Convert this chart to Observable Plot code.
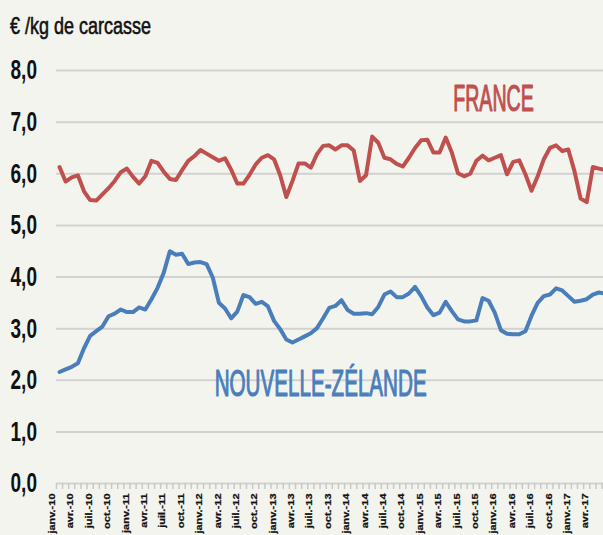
<!DOCTYPE html>
<html><head><meta charset="utf-8">
<script src="https://cdn.jsdelivr.net/npm/d3@7"></script>
<script src="https://cdn.jsdelivr.net/npm/@observablehq/plot@0.6"></script>
<style>
html,body{margin:0;padding:0;background:#f4f4ef;overflow:hidden;width:603px;height:535px}
#title{height:40px;box-sizing:border-box;padding-top:14px;padding-left:10px;font:24px/24px "Liberation Sans",Arial,sans-serif;color:#111;white-space:nowrap}
#title span{display:inline-block;transform:scaleX(0.75);transform-origin:0 0;-webkit-text-stroke:0.6px #111}
</style></head><body>
<div id="title"><span>€ /kg de carcasse</span></div>
<div id="chart"></div>
<script>
const france = [6.13,5.85,5.93,5.97,5.66,5.49,5.48,5.60,5.72,5.86,
  6.03,6.10,5.94,5.81,5.95,6.25,6.21,6.04,5.90,5.88,
  6.07,6.25,6.34,6.46,6.39,6.32,6.25,6.30,6.08,5.81,
  5.81,5.98,6.18,6.31,6.36,6.28,5.97,5.55,5.86,6.20,
  6.20,6.12,6.38,6.54,6.55,6.47,6.55,6.55,6.45,5.86,
  5.97,6.72,6.60,6.31,6.28,6.19,6.14,6.31,6.50,6.65,
  6.66,6.41,6.41,6.70,6.41,6.01,5.95,6.00,6.25,6.35,
  6.26,6.31,6.36,5.99,6.23,6.26,5.99,5.67,5.95,6.28,
  6.50,6.55,6.44,6.47,6.05,5.52,5.45,6.13,6.10,6.07];
const nz = [2.16,2.21,2.26,2.33,2.62,2.86,2.95,3.04,3.24,3.29,
  3.37,3.32,3.32,3.41,3.37,3.57,3.79,4.08,4.50,4.43,
  4.45,4.25,4.28,4.29,4.25,3.99,3.50,3.39,3.20,3.33,
  3.65,3.61,3.48,3.52,3.43,3.15,2.99,2.79,2.73,2.79,
  2.85,2.91,3.01,3.20,3.40,3.44,3.55,3.36,3.29,3.29,
  3.30,3.28,3.42,3.66,3.72,3.61,3.61,3.68,3.81,3.63,
  3.41,3.26,3.31,3.52,3.34,3.18,3.14,3.14,3.16,3.59,
  3.54,3.31,2.97,2.90,2.89,2.89,2.95,3.25,3.50,3.63,
  3.66,3.78,3.74,3.63,3.52,3.54,3.57,3.66,3.70,3.68];
const tickLabels = ["janv.-10","avr.-10","juil.-10","oct.-10",
  "janv.-11","avr.-11","juil.-11","oct.-11",
  "janv.-12","avr.-12","juil.-12","oct.-12",
  "janv.-13","avr.-13","juil.-13","oct.-13",
  "janv.-14","avr.-14","juil.-14","oct.-14",
  "janv.-15","avr.-15","juil.-15","oct.-15",
  "janv.-16","avr.-16","juil.-16","oct.-16",
  "janv.-17","avr.-17"];
const yTicks = [0,1,2,3,4,5,6,7,8];
const seriesNames = ["FRANCE","NOUVELLE-ZÉLANDE"];

const rows = france.map((v,i)=>({i, france:v, nz:nz[i]}));
const labelRows = tickLabels.map((t,k)=>({i:3*k, t}));
const bounds = d3.range(france.length+1).map(i=>i-0.5);
const fmt = d => d3.format(".1f")(d).replace(".", ",");
const RED = "#c0504d", BLUE = "#4a7ebb";

const chart = Plot.plot({
  width: 603, height: 495,
  marginLeft: 56, marginRight: 0, marginTop: 30, marginBottom: 52,
  style: {background: "#f4f4ef", fontFamily: "'Liberation Sans', Arial, sans-serif", overflow: "hidden"},
  x: {type: "linear", domain: [0, 89], range: [59, 604.6]},
  y: {domain: [0, 8], axis: null},
  marks: [
    Plot.ruleY(yTicks, {stroke: "#d2d2d2", strokeWidth: 2}),
    Plot.axisX({ticks: bounds, tickSize: 6, tickFormat: () => "", stroke: "#c8c8c8", strokeWidth: 1.5, label: null}),
    Plot.text(yTicks, {y: d => d, text: fmt, frameAnchor: "left", textAnchor: "start", dx: -46, fontSize: 28, fontWeight: "bold", fill: "#111"}),
    Plot.text(labelRows, {x: "i", text: "t", frameAnchor: "bottom", rotate: -90, textAnchor: "end", dx: -4.5, dy: 10, fontSize: 11, fontWeight: "bold", fill: "#111", stroke: "#111", strokeWidth: 0.3}),
    Plot.line(rows, {x: "i", y: "france", stroke: RED, strokeWidth: 4, clip: true, strokeLinejoin: "round"}),
    Plot.line(rows, {x: "i", y: "nz", stroke: BLUE, strokeWidth: 4, clip: true, strokeLinejoin: "round"}),
    Plot.text([seriesNames[0]], {x: 70.8, y: 7.45, text: d => d, fontSize: 37, fill: RED, stroke: RED, strokeWidth: 1.2}),
    Plot.text([seriesNames[1]], {x: 42.6, y: 1.92, text: d => d, fontSize: 37.5, fill: BLUE, stroke: BLUE, strokeWidth: 1.2})
  ]
});
document.getElementById("chart").appendChild(chart);

// condense the text glyphs (styling only)
const scaleBySize = {"28": " scale(0.68,1)", "11": " scale(1,0.76)", "37": " scale(0.53,1)", "37.5": " scale(0.55,1)"};
chart.querySelectorAll("text").forEach(t => {
  const holder = t.closest("[font-size]");
  const fs = holder ? holder.getAttribute("font-size") : null;
  const s = scaleBySize[fs];
  if (s) t.setAttribute("transform", (t.getAttribute("transform") || "") + s);
});
</script>
</body></html>
